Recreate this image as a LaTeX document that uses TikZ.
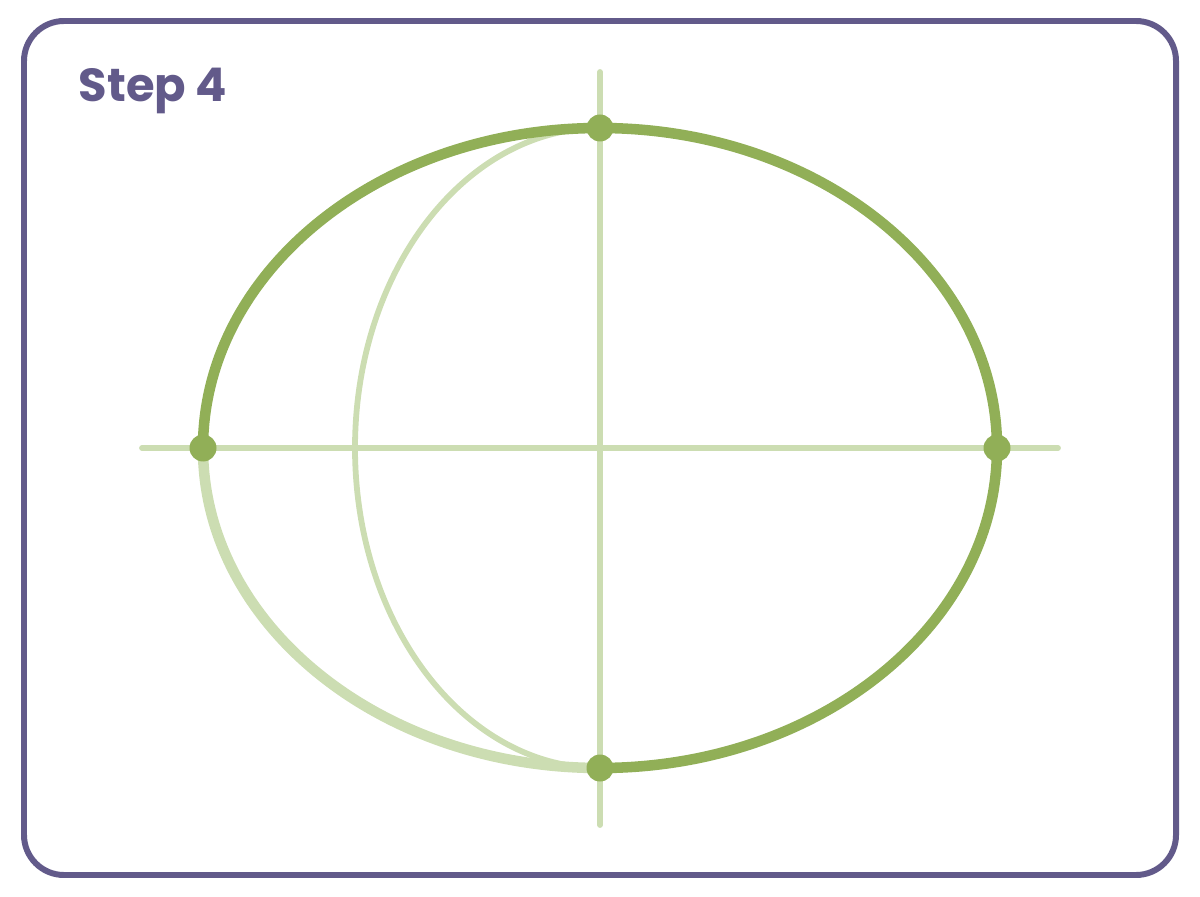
\documentclass[tikz,border=0pt]{standalone}
\usepackage{fontspec}
\usepackage{tikz}
\newfontfamily\titlefont{Poppins}
\definecolor{framepurple}{HTML}{625A8A}
\definecolor{darkgreen}{HTML}{91AF57}
\definecolor{lightgreen}{HTML}{CCDDB2}

\begin{document}
\begin{tikzpicture}
         [every node/.style={circle, fill=darkgreen, inner sep=0pt, minimum size=0.54cm},
          guide/.style={color=lightgreen, line width=3.3pt, line cap=round},
          outline/.style={color=darkgreen, line width=6pt}]
         \useasboundingbox (0,0) rectangle (24,17.92);
         \draw[color=framepurple, line width=3.4pt, rounded corners=0.8cm] (0.48,0.42) rectangle (23.52,17.5);
         \node[fill=none, minimum size=0pt, anchor=base west, text=framepurple, font=\titlefont\bfseries\fontsize{26.4}{31}\selectfont] (title) at (1.5,15.88) {Step 4};
         \coordinate (c) at (12,8.96);
         \coordinate (n) at (12,16.48);
         \coordinate (s) at (12,1.42);
         \coordinate (w) at (2.84,8.96);
         \coordinate (e) at (21.16,8.96);
         \foreach \from/\to in {n/s, w/e}
            \draw[guide] (\from) -- (\to);
         \draw[guide] (12,15.36) arc[start angle=90, end angle=270, x radius=4.9cm, y radius=6.4cm];
         \draw[color=lightgreen, line width=6pt] (4.06,8.96) arc[start angle=180, end angle=270, x radius=7.94cm, y radius=6.4cm];
         \draw[outline] (4.06,8.96) arc[start angle=180, end angle=0, x radius=7.94cm, y radius=6.4cm]
                         arc[start angle=0, end angle=-90, x radius=7.94cm, y radius=6.4cm];
         \node (top) at (12,15.36) {};
         \node (left) at (4.06,8.96) {};
         \node (right) at (19.94,8.96) {};
         \node (bottom) at (12,2.56) {};
       \end{tikzpicture}
\end{document}
